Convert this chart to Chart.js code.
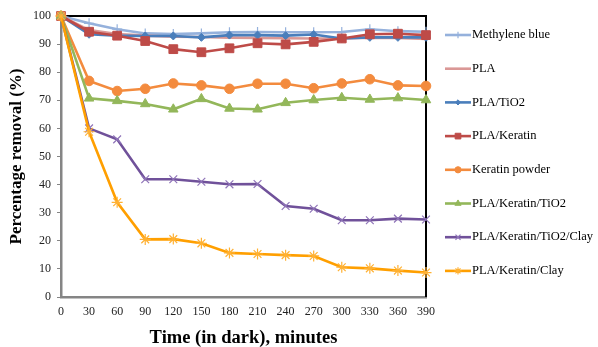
<!DOCTYPE html>
<html>
<head>
<meta charset="utf-8">
<script src="https://cdn.jsdelivr.net/npm/chart.js@4.4.0/dist/chart.umd.min.js"></script>
<style>
  html, body { margin: 0; padding: 0; background: #fff; }
  #wrap { width: 598px; height: 347px; position: relative; }
</style>
</head>
<body>
<div id="wrap"><canvas id="c" width="598" height="347"></canvas></div>
<script>
const categories = ['0','30','60','90','120','150','180','210','240','270','300','330','360','390'];
const seriesNames = ['Methylene blue','PLA','PLA/TiO2','PLA/Keratin','Keratin powder','PLA/Keratin/TiO2','PLA/Keratin/TiO2/Clay','PLA/Keratin/Clay'];
const methyleneBlue = [100, 97.4, 95.3, 93.8, 93.6, 93.8, 94.2, 94.3, 94.2, 94.2, 94.3, 95.3, 94.6, 94.4];
const pla           = [100, 95.0, 93.6, 93.0, 92.6, 92.5, 92.3, 92.2, 92.1, 92.0, 92.0, 92.3, 92.2, 91.8];
const plaTiO2       = [100, 93.5, 93.0, 92.9, 92.9, 92.4, 93.2, 93.2, 93.0, 93.4, 92.0, 92.4, 92.4, 92.4];
const plaKeratin    = [100, 94.4, 93.0, 91.1, 88.2, 87.1, 88.5, 90.3, 89.9, 90.8, 92.0, 93.5, 93.7, 93.2];
const keratinPowder = [100, 76.9, 73.3, 74.1, 76.0, 75.3, 74.1, 75.9, 75.9, 74.3, 76.0, 77.5, 75.3, 75.1];
const plaKerTiO2    = [100, 70.7, 69.8, 68.7, 66.8, 70.5, 67.1, 66.8, 69.1, 70.1, 70.9, 70.3, 70.8, 70.1];
const plaKerTiO2Clay= [100, 60.0, 56.1, 41.9, 41.9, 41.0, 40.1, 40.2, 32.4, 31.4, 27.3, 27.3, 27.9, 27.6];
const plaKerClay    = [100, 58.8, 33.7, 20.5, 20.6, 19.1, 15.7, 15.3, 14.9, 14.6, 10.6, 10.2, 9.4, 8.7];
const yTicks = [0,10,20,30,40,50,60,70,80,90,100];

const values = [methyleneBlue, pla, plaTiO2, plaKeratin, keratinPowder, plaKerTiO2, plaKerTiO2Clay, plaKerClay];
const lineColors  = ['#95B1DC', '#DA9896', '#4A7EBB', '#BE4B48', '#F38B3E', '#93B75A', '#70519A', '#FF9F00'];
const pointColors = ['#95B1DC', '#DA9896', '#4A7EBB', '#BE4B48', '#F38B3E', '#93B75A', '#8F74B8', '#FFB133'];
const pointStyles = ['cross', 'circle', 'rectRot', 'rect', 'circle', 'triangle', 'crossRot', 'star'];
const pointRadii  = [5, 0, 4, 6.2, 4.8, 5.5, 5.5, 5.5];
const pointBorders= [1.2, 1, 1, 1, 1, 1, 1.2, 1.2];

const datasets = values.map((v, i) => ({
  label: seriesNames[i],
  data: v,
  borderColor: lineColors[i],
  backgroundColor: pointColors[i],
  pointBackgroundColor: pointColors[i],
  pointBorderColor: pointColors[i],
  pointStyle: pointStyles[i],
  pointRadius: pointRadii[i],
  pointHoverRadius: pointRadii[i],
  pointBorderWidth: pointBorders[i],
  borderWidth: 2.6,
  tension: 0,
  fill: false,
  clip: false,
  order: values.length - i
}));

const frame = {
  id: 'frame',
  beforeDatasetsDraw(chart) {
    const {ctx, chartArea: a} = chart;
    ctx.save();
    ctx.strokeStyle = '#000';
    ctx.lineWidth = 2;
    ctx.beginPath();
    ctx.moveTo(a.left, a.top);
    ctx.lineTo(a.right, a.top);
    ctx.lineTo(a.right, a.bottom);
    ctx.stroke();
    ctx.restore();
  }
};

const legendPlugin = {
  id: 'sideLegend',
  afterDraw(chart) {
    const ctx = chart.ctx;
    ctx.save();
    const x0 = 445, x1 = 471;
    chart.data.datasets.forEach((ds, i) => {
      const y = 35 + i * 33.7;
      ctx.strokeStyle = ds.borderColor;
      ctx.lineWidth = 2.6;
      ctx.beginPath();
      ctx.moveTo(x0, y);
      ctx.lineTo(x1, y);
      ctx.stroke();
      if (ds.pointRadius > 0 && Chart.helpers && Chart.helpers.drawPoint) {
        ctx.fillStyle = ds.pointBackgroundColor;
        ctx.strokeStyle = ds.pointBorderColor;
        ctx.lineWidth = ds.pointBorderWidth;
        Chart.helpers.drawPoint(ctx, {pointStyle: ds.pointStyle, radius: ds.pointRadius * 0.65, rotation: 0, borderWidth: ds.pointBorderWidth}, (x0 + x1) / 2, y);
      }
      ctx.fillStyle = '#000';
      ctx.font = '12.5px "Liberation Serif", "Times New Roman", serif';
      ctx.textBaseline = 'middle';
      ctx.textAlign = 'left';
      ctx.fillText(ds.label, x1 + 1, y);
    });
    ctx.restore();
  }
};

new Chart(document.getElementById('c'), {
  type: 'line',
  data: { labels: categories, datasets },
  plugins: [frame, legendPlugin],
  options: {
    responsive: false,
    animation: false,
    events: [],
    layout: { padding: { left: 0, top: 16, right: 172, bottom: 0 } },
    plugins: { legend: { display: false }, tooltip: { enabled: false } },
    scales: {
      x: {
        type: 'category',
        offset: false,
        grid: { display: false, drawTicks: false },
        border: { display: true, color: '#858585', width: 2.5 },
        ticks: { color: '#222', padding: 8, maxRotation: 0, autoSkip: false,
                  font: { family: '"Liberation Serif", "Times New Roman", serif', size: 12 } },
        title: { display: true, text: 'Time (in dark), minutes', color: '#000',
                 padding: { top: 0, bottom: 0 },
                 font: { family: '"Liberation Serif", "Times New Roman", serif', size: 18.5, weight: 'bold', lineHeight: 1 } },
        afterFit(s) { s.height = 50; }
      },
      y: {
        type: 'linear',
        min: 0, max: 100,
        afterBuildTicks(s) { s.ticks = yTicks.map(v => ({ value: v })); },
        grid: { display: true, drawOnChartArea: false, drawTicks: true, tickLength: 4, color: '#858585', lineWidth: 1 },
        border: { display: true, color: '#858585', width: 2.5 },
        ticks: { color: '#222', padding: 6,
                 font: { family: '"Liberation Serif", "Times New Roman", serif', size: 12 } },
        title: { display: true, text: 'Percentage removal (%)', color: '#000',
                 padding: { top: 6, bottom: 0 },
                 font: { family: '"Liberation Serif", "Times New Roman", serif', size: 17, weight: 'bold', lineHeight: 1.2 } },
        afterFit(s) { s.width = 61; }
      }
    }
  }
});
</script>
</body>
</html>
